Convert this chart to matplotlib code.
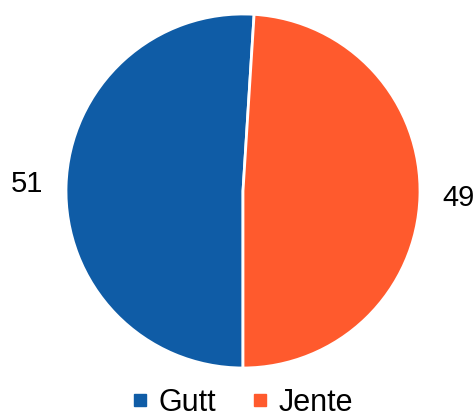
import matplotlib
matplotlib.use("Agg")
import matplotlib.pyplot as plt
from matplotlib.lines import Line2D

categories = ["Gutt", "Jente"]
values = [51, 49]
colors = ["#0F5CA6", "#FF5A2D"]

plt.rcParams['font.family'] = ['Liberation Sans', 'DejaVu Sans']

fig = plt.figure(figsize=(4.76, 4.17), dpi=100)
w = 354 / 476
h = 354 / 417
cx, cy = 243 / 476, 1 - 191 / 417
ax = fig.add_axes([cx - w / 2, cy - h / 2, w, h])
wedges, texts = ax.pie(values, colors=colors, startangle=-90, counterclock=False,
                       labels=[str(v) for v in values], labeldistance=1.22,
                       wedgeprops=dict(edgecolor="white", linewidth=2),
                       textprops=dict(fontsize=21, color="black"))
for t in texts:
    t.set_ha("center")
    t.set_va("center")
    t.set_clip_on(False)
ax.set_xlim(-1, 1)
ax.set_ylim(-1, 1)
ax.set_aspect("equal")

handles = [Line2D([0], [0], marker='s', linestyle='', color=c, markersize=9) for c in colors]
fig.legend(handles, categories, loc="center", bbox_to_anchor=(0.51, 1 - 403 / 417),
           ncol=2, frameon=False, fontsize=22, handlelength=0.5, handletextpad=0.35,
           columnspacing=1.2, borderaxespad=0)

fig.savefig("out.png", dpi=100)
